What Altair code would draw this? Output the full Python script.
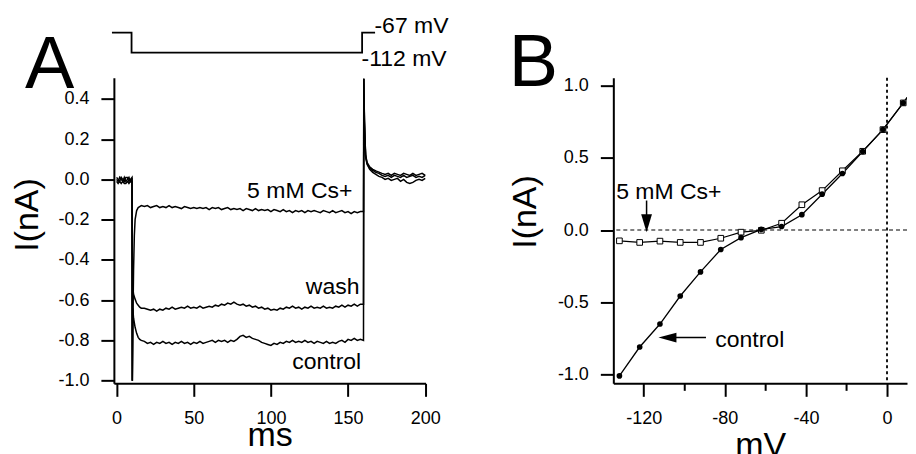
import altair as alt
import pandas as pd

FONT = "Liberation Sans"

# ---------------- Panel A : current traces ----------------
T_PRE = [0, 1, 2, 3, 4, 5, 6, 7, 8, 9, 10]
T_ON = [10.2, 10.5, 11, 12, 13, 14, 15, 16]
T_ON_CS = [10.2, 10.5, 11, 11.5, 12, 13, 14, 15, 16]
T_STEADY = list(range(18, 160, 2))
T_OFF = [160.0, 160.2, 160.6, 161.0, 161.4, 162.3, 164.0, 166.0, 168.0, 170.0]
T_POST = list(range(172, 201, 2))

CTRL_PRE = [0.00, -0.01, 0.01, 0.00, -0.01, 0.01, -0.01, 0.00, 0.01, -0.01, 0.00]
CTRL_ON = [-1.0, -0.64, -0.69, -0.735, -0.765, -0.785, -0.795, -0.80]
CTRL_STEADY = [-0.805, -0.815, -0.81, -0.82, -0.81, -0.815, -0.805, -0.815, -0.81, -0.82,
               -0.81, -0.815, -0.805, -0.815, -0.81, -0.82, -0.81, -0.815, -0.805, -0.815,
               -0.81, -0.805, -0.80, -0.81, -0.80, -0.805, -0.80, -0.81, -0.80, -0.805,
               -0.795, -0.78, -0.775, -0.785, -0.78, -0.79, -0.795, -0.80, -0.81, -0.815,
               -0.82, -0.825, -0.815, -0.82, -0.81, -0.815, -0.805, -0.81, -0.80, -0.81,
               -0.805, -0.81, -0.80, -0.81, -0.805, -0.815, -0.805, -0.81, -0.815, -0.805,
               -0.815, -0.81, -0.815, -0.805, -0.80, -0.81, -0.795, -0.80, -0.79, -0.80,
               -0.795]
CTRL_OFF = [-0.80, 0.50, 0.30, 0.20, 0.12, 0.085, 0.062, 0.05, 0.042, 0.036]
CTRL_POST = [0.03, 0.025, 0.03, 0.02, 0.03, 0.025, 0.02, 0.03, 0.025, 0.02, 0.03, 0.02, 0.025, 0.03, 0.02]

WASH_PRE = [0.01, 0.00, -0.01, 0.01, 0.00, -0.01, 0.01, 0.01, -0.01, 0.00, 0.01]
WASH_ON = [-1.0, -0.54, -0.57, -0.595, -0.615, -0.625, -0.635, -0.64]
WASH_STEADY = [-0.64, -0.645, -0.65, -0.645, -0.655, -0.645, -0.65, -0.64, -0.645, -0.635,
               -0.645, -0.64, -0.635, -0.64, -0.63, -0.64, -0.635, -0.64, -0.63, -0.64,
               -0.635, -0.63, -0.635, -0.625, -0.63, -0.62, -0.625, -0.615, -0.62, -0.61,
               -0.62, -0.625, -0.62, -0.63, -0.625, -0.635, -0.63, -0.64, -0.635, -0.645,
               -0.64, -0.65, -0.645, -0.65, -0.64, -0.645, -0.635, -0.64, -0.63, -0.64,
               -0.635, -0.645, -0.635, -0.64, -0.63, -0.64, -0.635, -0.64, -0.63, -0.64,
               -0.635, -0.64, -0.63, -0.635, -0.625, -0.635, -0.625, -0.63, -0.62, -0.63,
               -0.62]
WASH_OFF = [-0.62, 0.50, 0.28, 0.18, 0.11, 0.075, 0.05, 0.035, 0.025, 0.015]
WASH_POST = [0.01, 0.0, 0.005, -0.005, 0.0, 0.005, -0.01, 0.0, -0.015, -0.02, -0.015, -0.005, 0.0, -0.005, 0.005]

CS_PRE = [-0.01, -0.02, -0.01, -0.02, -0.01, -0.02, -0.02, -0.01, -0.02, -0.01, -0.01]
CS_ON = [-1.0, -0.75, -0.45, -0.28, -0.2, -0.155, -0.14, -0.135, -0.13]
CS_STEADY = [-0.135, -0.13, -0.14, -0.135, -0.13, -0.14, -0.135, -0.14, -0.13, -0.14,
             -0.135, -0.14, -0.145, -0.135, -0.14, -0.145, -0.14, -0.145, -0.14, -0.145,
             -0.14, -0.15, -0.14, -0.145, -0.14, -0.15, -0.145, -0.14, -0.15, -0.145,
             -0.15, -0.145, -0.155, -0.145, -0.15, -0.155, -0.145, -0.155, -0.15, -0.155,
             -0.15, -0.16, -0.15, -0.155, -0.16, -0.15, -0.16, -0.155, -0.165, -0.155,
             -0.16, -0.155, -0.165, -0.155, -0.16, -0.155, -0.16, -0.165, -0.155, -0.16,
             -0.165, -0.155, -0.165, -0.16, -0.155, -0.165, -0.16, -0.17, -0.16, -0.165,
             -0.16]
CS_OFF = [-0.16, 0.50, 0.29, 0.19, 0.115, 0.08, 0.056, 0.045, 0.035, 0.03]
CS_POST = [0.02, 0.015, 0.02, 0.01, 0.02, 0.015, 0.01, 0.02, 0.01, 0.015, 0.02, 0.01, 0.015, 0.01, 0.02]

# voltage protocol above the traces (mV)
PROTO_T = [-3.0, 9.7, 9.7, 159.1, 159.1, 167.5]
PROTO_V = [-67, -67, -112, -112, -67, -67]
PROTO_LABELS = ["-67 mV", "-112 mV"]
PROTO_LABEL_T = [167.1, 158.7]
PROTO_LABEL_V = [-67, -141.3]   # text baselines, in protocol units

# trace labels
A_LABELS = ["5 mM Cs+", "wash", "control"]
A_LABEL_T = [152.8, 157.4, 158.5]
A_LABEL_I = [-0.091, -0.569, -0.94]

A_TICKS_X = [0, 50, 100, 150, 200]
A_TICKS_Y = [-1.0, -0.8, -0.6, -0.4, -0.2, 0.0, 0.2, 0.4]

# ---------------- Panel B : I-V relation ----------------
MV = [-132, -122, -112, -102, -92, -82, -72, -62, -52, -42, -32, -22, -12, -2, 8, 18]
I_CONTROL = [-1.01, -0.81, -0.651, -0.457, -0.29, -0.135, -0.053, 0.004,
             0.024, 0.106, 0.248, 0.391, 0.543, 0.695, 0.88, 1.07]
I_CS = [-0.075, -0.086, -0.077, -0.086, -0.086, -0.057, -0.015, -0.002,
        0.047, 0.175, 0.273, 0.41, 0.545, 0.695, 0.88, 1.07]

B_TICKS_X = [-120, -100, -80, -60, -40, -20, 0]
B_TICKS_Y = [-1.0, -0.5, 0.0, 0.5, 1.0]

B_LABELS = ["5 mM Cs+", "control"]
B_LABEL_MV = [-133.6, -84.7]
B_LABEL_I = [0.216, -0.81]

# arrows (shaft from -> to, head centre)
ARROW_DOWN = {"x": -118.6, "y1": 0.204, "y2": 0.10, "head_y": 0.047}
ARROW_LEFT = {"y": -0.745, "x1": -89.3, "x2": -106.0, "head_x": -108.3}

# ---------------- build tables ----------------
def trace(name, t_on, pre, on, steady, off, post):
    t = T_PRE + t_on + T_STEADY + T_OFF + T_POST
    v = pre + on + steady + off + post
    assert len(t) == len(v), name
    return pd.DataFrame({"t": t, "i": v, "trace": name})

df_tr = pd.concat([
    trace("control", T_ON, CTRL_PRE, CTRL_ON, CTRL_STEADY, CTRL_OFF, CTRL_POST),
    trace("wash", T_ON, WASH_PRE, WASH_ON, WASH_STEADY, WASH_OFF, WASH_POST),
    trace("cs", T_ON_CS, CS_PRE, CS_ON, CS_STEADY, CS_OFF, CS_POST),
])
df_proto = pd.DataFrame({"t": PROTO_T, "v": PROTO_V, "k": list(range(len(PROTO_T)))})
df_proto_lab = pd.DataFrame({"t": PROTO_LABEL_T, "v": PROTO_LABEL_V, "text": PROTO_LABELS})
df_a_lab = pd.DataFrame({"t": A_LABEL_T, "i": A_LABEL_I, "text": A_LABELS})
df_a_letter = pd.DataFrame({"t": [-59.3], "i": [0.452], "text": ["A"]})

df_iv = pd.concat([
    pd.DataFrame({"mv": MV, "i": I_CONTROL, "s": "control"}),
    pd.DataFrame({"mv": MV, "i": I_CS, "s": "cs"}),
])
df_b_lab = pd.DataFrame({"mv": B_LABEL_MV, "i": B_LABEL_I, "text": B_LABELS})
df_b_letter = pd.DataFrame({"mv": [-186.6], "i": [0.999], "text": ["B"]})

MINUS_FIX = "replace(format(datum.value, '.1f'), '\u2212', '-')"

# ---------------- Panel A chart ----------------
xA_scale = alt.Scale(domain=[-1.75, 200.2], nice=False, zero=False)
yA_scale = alt.Scale(domain=[-1.0134, 0.5054], nice=False, zero=False)
pA_scale = alt.Scale(domain=[-856.75, -168.25], nice=False, zero=False)

axA_x = alt.Axis(values=A_TICKS_X, title="ms", titleY=62, titleBaseline="alphabetic",
                 labelPadding=13, labelFlush=False,
                 labelExpr="replace(format(datum.value, 'd'), '\u2212', '-')")
axA_y = alt.Axis(values=A_TICKS_Y, labelExpr=MINUS_FIX, title="I(nA)", titleAngle=270,
                 titleAlign="center", titleBaseline="middle", titleX=-86, titleY=137,
                 labelPadding=12, labelFlush=False)

def XA(f):
    return alt.X(f, scale=xA_scale, axis=axA_x)

def YA(f):
    return alt.Y(f, scale=yA_scale, axis=axA_y)

traces = alt.Chart(df_tr).mark_line(color="black", strokeWidth=1.5).encode(
    x=XA("t:Q"), y=YA("i:Q"), detail="trace:N",
)
a_labels = alt.Chart(df_a_lab).mark_text(font=FONT, fontSize=23, align="right",
                                        baseline="alphabetic", color="black").encode(
    x=XA("t:Q"), y=YA("i:Q"), text="text:N",
)
a_letter = alt.Chart(df_a_letter).mark_text(font=FONT, fontSize=74, align="left",
                                           baseline="alphabetic", color="black").encode(
    x=XA("t:Q"), y=YA("i:Q"), text="text:N",
)
proto_line = alt.Chart(df_proto).mark_line(color="black", strokeWidth=1.8).encode(
    x=XA("t:Q"),
    y=alt.Y("v:Q", scale=pA_scale, axis=None),
    order="k:Q",
)
proto_lab = alt.Chart(df_proto_lab).mark_text(font=FONT, fontSize=23, align="left",
                                             baseline="alphabetic", color="black").encode(
    x=XA("t:Q"),
    y=alt.Y("v:Q", scale=pA_scale, axis=None),
    text="text:N",
)

panelA = alt.layer(
    alt.layer(traces, a_labels, a_letter),
    alt.layer(proto_line, proto_lab),
).resolve_scale(y="independent").properties(width=312, height=306)

# ---------------- Panel B chart ----------------
xB_scale = alt.Scale(domain=[-135, 9.86], nice=False, zero=False)
yB_scale = alt.Scale(domain=[-1.0615, 1.0546], nice=False, zero=False)

axB_x = alt.Axis(values=B_TICKS_X, title="mV", titleY=72, titleBaseline="alphabetic",
                 labelPadding=13, labelFlush=False,
                 labelExpr="datum.value % 40 === 0 ? replace(format(datum.value, 'd'), '\u2212', '-') : ''",
                 tickSize={"condition": {"test": "datum.value % 40 === 0", "value": 13}, "value": 7})
axB_y = alt.Axis(values=B_TICKS_Y, labelExpr=MINUS_FIX, title="I(nA)", titleAngle=270,
                 titleAlign="center", titleBaseline="middle", titleX=-88, titleY=134,
                 labelPadding=12, labelFlush=False)

def XB(f):
    return alt.X(f, scale=xB_scale, axis=axB_x)

def YB(f):
    return alt.Y(f, scale=yB_scale, axis=axB_y)

zero_h = alt.Chart(pd.DataFrame({"i": [0.0]})).mark_rule(
    color="black", strokeWidth=1.1, strokeDash=[4, 3]).encode(y=YB("i:Q"))
zero_v = alt.Chart(pd.DataFrame({"mv": [0.0]})).mark_rule(
    color="black", strokeWidth=1.8, strokeDash=[3, 3]).encode(x=XB("mv:Q"))

cs_df = df_iv[df_iv.s == "cs"]
ct_df = df_iv[df_iv.s == "control"]
cs_line = alt.Chart(cs_df).mark_line(color="black", strokeWidth=1.2, clip=True).encode(
    x=XB("mv:Q"), y=YB("i:Q"))
cs_pts = alt.Chart(cs_df).mark_point(shape="square", size=32, filled=True,
                                     fill="white", stroke="black",
                                     strokeWidth=1, opacity=1, clip=True).encode(
    x=XB("mv:Q"), y=YB("i:Q"))
ct_line = alt.Chart(ct_df).mark_line(color="black", strokeWidth=1.3, clip=True).encode(
    x=XB("mv:Q"), y=YB("i:Q"))
ct_pts = alt.Chart(ct_df).mark_circle(size=32, color="black", opacity=1, clip=True).encode(
    x=XB("mv:Q"), y=YB("i:Q"))
b_labels = alt.Chart(df_b_lab).mark_text(font=FONT, fontSize=23, align="left",
                                        baseline="alphabetic", color="black").encode(
    x=XB("mv:Q"), y=YB("i:Q"), text="text:N")
b_letter = alt.Chart(df_b_letter).mark_text(font=FONT, fontSize=74, align="left",
                                           baseline="alphabetic", color="black").encode(
    x=XB("mv:Q"), y=YB("i:Q"), text="text:N")
arrow_down_shaft = alt.Chart(pd.DataFrame({"mv": [ARROW_DOWN["x"]], "a": [ARROW_DOWN["y1"]],
                                           "b": [ARROW_DOWN["y2"]]})).mark_rule(
    color="black", strokeWidth=1.5).encode(x=XB("mv:Q"), y=YB("a:Q"), y2="b:Q")
arrow_down_head = alt.Chart(pd.DataFrame({"mv": [ARROW_DOWN["x"]], "i": [ARROW_DOWN["head_y"]]})).mark_point(
    shape="M-0.6,-1L0.6,-1L0,1Z", size=324, filled=True, color="black", opacity=1).encode(
    x=XB("mv:Q"), y=YB("i:Q"))
arrow_left_shaft = alt.Chart(pd.DataFrame({"i": [ARROW_LEFT["y"]], "a": [ARROW_LEFT["x1"]],
                                           "b": [ARROW_LEFT["x2"]]})).mark_rule(
    color="black", strokeWidth=1.5).encode(y=YB("i:Q"), x=XB("a:Q"), x2="b:Q")
arrow_left_head = alt.Chart(pd.DataFrame({"mv": [ARROW_LEFT["head_x"]], "i": [ARROW_LEFT["y"]]})).mark_point(
    shape="M1,-0.55L1,0.55L-1,0Z", size=324, filled=True, color="black", opacity=1).encode(
    x=XB("mv:Q"), y=YB("i:Q"))

panelB = alt.layer(
    ct_line, zero_h, zero_v, cs_line, cs_pts, ct_pts, b_labels, b_letter,
    arrow_down_shaft, arrow_down_head, arrow_left_shaft, arrow_left_head,
).properties(width=294, height=306)

chart = alt.hconcat(panelA, panelB, spacing=188, bounds="flush").properties(
    padding={"left": 3, "top": 6.5, "right": 0, "bottom": 0}
).configure_view(stroke=None).configure_axis(
    grid=False, domainColor="black", domainWidth=2, tickColor="black", tickWidth=2,
    tickSize=13, labelColor="black", labelFont=FONT, labelFontSize=18,
    titleColor="black", titleFont=FONT, titleFontSize=34, titleFontWeight="normal",
)

chart.save("out.html", embed_options={"renderer": "svg", "actions": False})
